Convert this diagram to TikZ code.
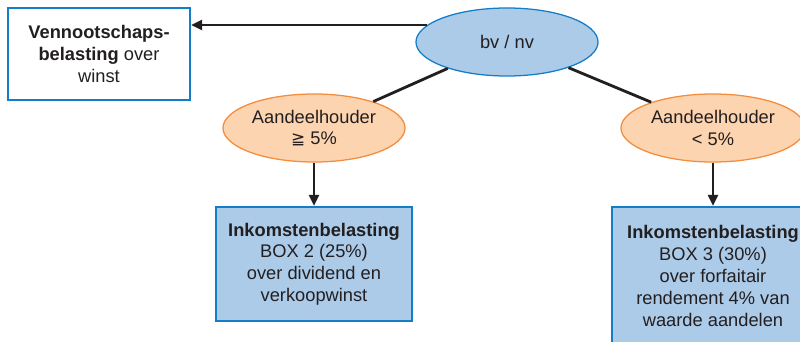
\documentclass[tikz,border=0pt]{standalone}
\usepackage{fontspec}
\setmainfont{Liberation Sans}
\newfontfamily\symfont{DejaVu Sans}
\usetikzlibrary{arrows.meta,shapes.geometric}
\definecolor{txt}{RGB}{35,31,32}
\definecolor{bluefill}{RGB}{171,203,233}
\definecolor{blueline}{RGB}{20,125,200}
\definecolor{orfill}{RGB}{253,212,176}
\definecolor{orline}{RGB}{245,140,60}
\tikzset{
  every node/.style={text=txt,font=\fontsize{13}{15.5}\selectfont,align=center,inner sep=0pt},
  blueell/.style={ellipse,draw=blueline,fill=bluefill,line width=0.9pt},
  orell/.style={ellipse,draw=orline,fill=orfill,line width=0.9pt},
  whitebox/.style={rectangle,draw=blueline,fill=white,line width=1.3pt},
  bluebox/.style={rectangle,draw=blueline,fill=bluefill,line width=1.3pt},
  conn/.style={draw=txt,line width=2pt},
  arr/.style={conn,-{Triangle[length=8pt,width=7pt]}}
}
\begin{document}
\begin{tikzpicture}[x=0.025cm,y=-0.025cm]
\useasboundingbox (0,0) rectangle (800,341);
\clip (0,0) rectangle (800,341);
\node[whitebox,minimum width=4.55cm,minimum height=2.3cm] (vpb) at (99,54)
  {\textbf{Vennootschaps-}\\\textbf{belasting} over\\winst};
\node[blueell,minimum width=4.55cm,minimum height=1.7cm] (top) at (507,42) {bv / nv};
\node[orell,minimum width=4.55cm,minimum height=1.7cm] (le) at (314,128)
  {Aandeelhouder\\{\symfont\fontsize{12}{15.5}\selectfont ≧} 5\%};
\node[orell,minimum width=4.6cm,minimum height=1.7cm] (re) at (713,128)
  {Aandeelhouder\\< 5\%};
\node[bluebox,minimum width=4.9cm,minimum height=2.85cm] (lb) at (314,264)
  {\textbf{Inkomstenbelasting}\\BOX 2 (25\%)\\over dividend en\\verkoopwinst};
\node[bluebox,minimum width=5.05cm,minimum height=3.45cm] (rb) at (713,276)
  {\textbf{Inkomstenbelasting}\\BOX 3 (30\%)\\over forfaitair\\rendement 4\% van\\waarde aandelen};
\draw[arr] (top.168) -- (top.168 -| vpb.east);
\draw[conn] (top) -- (le);
\draw[conn] (top) -- (re);
\draw[arr] (le.south) -- (lb.north);
\draw[arr] (re.south) -- (rb.north);
\end{tikzpicture}
\end{document}
